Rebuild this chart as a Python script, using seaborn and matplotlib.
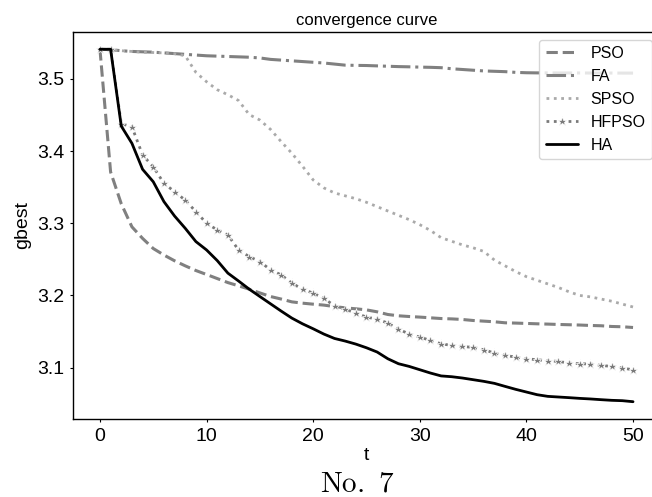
import numpy as np
import pandas as pd
import matplotlib
matplotlib.use("Agg")
import matplotlib.pyplot as plt
import seaborn as sns

t = list(range(51))

pso = [3.541, 3.371, 3.327, 3.295, 3.279, 3.265, 3.256, 3.248, 3.241, 3.2345,
       3.229, 3.2234, 3.2178, 3.2133, 3.2087, 3.2035, 3.1985, 3.195, 3.1911, 3.1893,
       3.1879, 3.1866, 3.1846, 3.1828, 3.1815, 3.180, 3.1773, 3.1736, 3.1718, 3.1708,
       3.170, 3.169, 3.168, 3.1675, 3.1667, 3.1653, 3.1644, 3.1635, 3.1621, 3.1617,
       3.1612, 3.1607, 3.1603, 3.1598, 3.1594, 3.159, 3.1584, 3.158, 3.157, 3.1566,
       3.1556]

fa = [3.541, 3.5405, 3.539, 3.538, 3.5375, 3.537, 3.536, 3.535, 3.534, 3.533,
      3.532, 3.5315, 3.531, 3.5305, 3.530, 3.529, 3.527, 3.526, 3.525, 3.524,
      3.523, 3.522, 3.5205, 3.519, 3.5187, 3.5185, 3.518, 3.5175, 3.517, 3.5167,
      3.5163, 3.516, 3.5155, 3.514, 3.513, 3.512, 3.511, 3.5105, 3.510, 3.509,
      3.5085, 3.5083, 3.5083, 3.5082, 3.5082, 3.5082, 3.5081, 3.5081, 3.5081, 3.508,
      3.508]

spso = [3.541, 3.540, 3.539, 3.538, 3.537, 3.5365, 3.536, 3.535, 3.532, 3.509,
        3.496, 3.485, 3.478, 3.470, 3.4505, 3.443, 3.430, 3.413, 3.397, 3.379,
        3.360, 3.349, 3.342, 3.338, 3.334, 3.329, 3.323, 3.317, 3.311, 3.305,
        3.298, 3.290, 3.280, 3.275, 3.270, 3.266, 3.261, 3.249, 3.241, 3.233,
        3.226, 3.221, 3.216, 3.211, 3.205, 3.200, 3.198, 3.195, 3.192, 3.188,
        3.184]

hfpso = [3.541, 3.541, 3.438, 3.4336, 3.3945, 3.3783, 3.3553, 3.3437, 3.332, 3.316,
         3.300, 3.2907, 3.2838, 3.263, 3.2538, 3.247, 3.2354, 3.2285, 3.217, 3.2087,
         3.2032, 3.196, 3.1856, 3.181, 3.1755, 3.170, 3.1672, 3.1617, 3.1534, 3.1465,
         3.1423, 3.1377, 3.133, 3.1307, 3.1293, 3.128, 3.1248, 3.1202, 3.1169, 3.1146,
         3.1123, 3.1109, 3.1095, 3.1086, 3.1063, 3.1054, 3.105, 3.103, 3.1017, 3.0994,
         3.097]

ha = [3.541, 3.541, 3.4346, 3.4107, 3.3747, 3.3575, 3.330, 3.310, 3.293, 3.2746,
      3.263, 3.2483, 3.2309, 3.220, 3.2087, 3.1985, 3.1884, 3.1783, 3.1686, 3.1607,
      3.1538, 3.1465, 3.1404, 3.1368, 3.1326, 3.1275, 3.1216, 3.1123, 3.1054, 3.1017,
      3.0971, 3.0925, 3.0885, 3.0874, 3.0856, 3.0833, 3.081, 3.0782, 3.074, 3.0699,
      3.0662, 3.0625, 3.0602, 3.0593, 3.0584, 3.0574, 3.0566, 3.0556, 3.0547, 3.0542,
      3.0528]

sns.set_theme(style="ticks", context="notebook")
plt.rcParams["font.family"] = ["Liberation Sans", "DejaVu Sans"]
plt.rcParams["mathtext.fontset"] = "cm"
plt.rcParams["axes.edgecolor"] = "black"
plt.rcParams["axes.linewidth"] = 1.0
plt.rcParams["xtick.color"] = "black"
plt.rcParams["ytick.color"] = "black"
plt.rcParams["text.color"] = "black"
plt.rcParams["axes.labelcolor"] = "black"
plt.rcParams["xtick.major.size"] = 2.5
plt.rcParams["ytick.major.size"] = 2.5
plt.rcParams["xtick.major.width"] = 0.8
plt.rcParams["ytick.major.width"] = 0.8

fig = plt.figure(figsize=(6.52, 4.97), dpi=100)
ax = fig.add_axes([0.1124, 0.1563, 0.8994, 0.780])

sns.lineplot(x=t, y=pso, ax=ax, color="#808080", linestyle="--", linewidth=2.2, label="PSO")
sns.lineplot(x=t, y=fa, ax=ax, color="#808080", linestyle="-.", linewidth=2.2, label="FA")
sns.lineplot(x=t, y=spso, ax=ax, color="#aaaaaa", linestyle=":", linewidth=2, label="SPSO")
sns.lineplot(x=t, y=hfpso, ax=ax, color="#7a7a7a", linestyle=":", linewidth=2,
             marker="*", markersize=6.5, markeredgewidth=0.5, label="HFPSO")
sns.lineplot(x=t, y=ha, ax=ax, color="black", linestyle="-", linewidth=2, label="HA")

ax.set_xticks([0, 10, 20, 30, 40, 50])
ax.set_yticks([3.1, 3.2, 3.3, 3.4, 3.5])
ax.tick_params(labelsize=14, pad=4)
ax.set_xlabel("t", fontsize=14, labelpad=1)
ax.set_ylabel("gbest", fontsize=14, labelpad=4)
ax.set_title("convergence curve", fontsize=12, pad=5)
ax.legend(loc="upper right", fontsize=11.5, frameon=True)

fig.text(0.548, 0.027, r"$\mathrm{No.\ 7}$", fontsize=21, ha="center", va="center")

fig.savefig("out.png", dpi=100)
